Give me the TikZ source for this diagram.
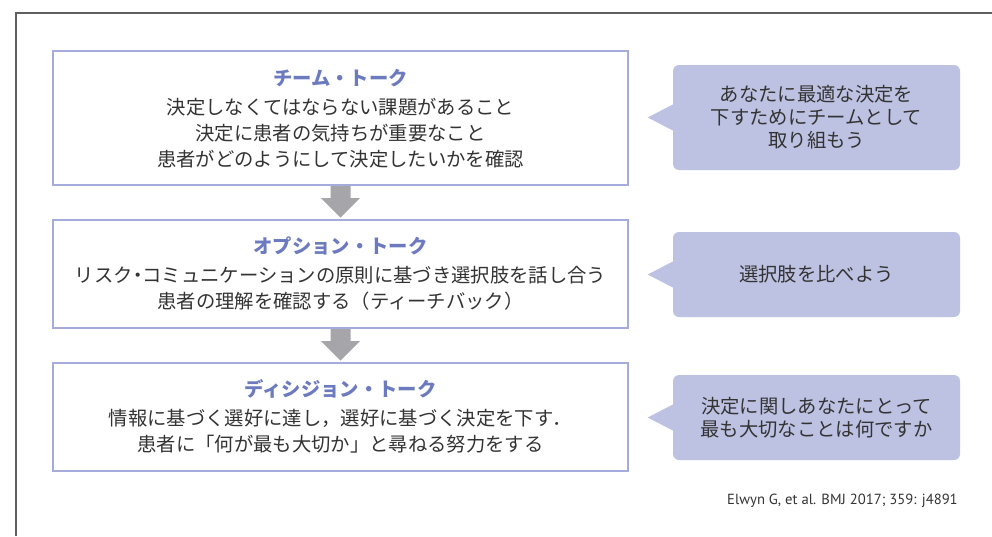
\documentclass[tikz,border=0pt]{standalone}
\usepackage{fontspec}
\usetikzlibrary{calc}
\newfontfamily\jp{Noto Sans CJK JP}
\newfontfamily\citefont{PT Sans}
\definecolor{boxborder}{RGB}{165,172,220}
\definecolor{titlecol}{RGB}{108,122,192}
\definecolor{callfill}{RGB}{190,194,226}
\definecolor{arrowgray}{RGB}{166,166,170}
\definecolor{textcol}{RGB}{51,51,51}
\definecolor{framecol}{RGB}{95,95,95}
\newcommand{\narrowdot}{\makebox[0.5em][c]{・}}
% sizes given in px, 1px = 0.75pt
\tikzset{
  talkbox/.style={draw=boxborder, line width=1.5pt, fill=white, minimum width=431.25pt, minimum height=#1*0.75pt, inner sep=0pt},
  talktitle/.style={font=\jp\bfseries\fontsize{14.5pt}{18pt}\selectfont, text=titlecol, inner sep=0pt},
  talkbody/.style={font=\jp\fontsize{14.5pt}{19.5pt}\selectfont, text=textcol, align=center, inner sep=0pt},
  callbox/.style={fill=callfill, rounded corners=4.5pt, minimum width=215.25pt, minimum height=#1*0.75pt, inner sep=0pt},
  calltext/.style={font=\jp\fontsize{14.5pt}{17.25pt}\selectfont, text=textcol, align=center, inner sep=0pt},
  blockarrow/.style={fill=arrowgray, draw=none},
}
\begin{document}
\begin{tikzpicture}[x=0.75pt, y=-0.75pt]
\useasboundingbox (0,0) rectangle (992,536);
% outer frame (open at right and bottom)
\coordinate (fbl) at (16,536);
\coordinate (ftl) at (16,13);
\coordinate (ftr) at (992,13);
\draw[framecol, line width=0.9pt] (fbl) -- (ftl) -- (ftr);

% boxes
\node[talkbox=134] (b1) at (340.5,118) {};
\node[talkbox=108] (b2) at (340.5,274) {};
\node[talkbox=108] (b3) at (340.5,417) {};

\node[talktitle] (t1) at (340.5,78) {チーム・トーク};
\node[talkbody] (x1) at (340.5,133) {決定しなくてはならない課題があること\\決定に患者の気持ちが重要なこと\\患者がどのようにして決定したいかを確認};

\node[talktitle] (t2) at (340.5,246) {オプション・トーク};
\node[talkbody] (x2) at (340.5,288.5) {リスク\narrowdot コミュニケーションの原則に基づき選択肢を話し合う\\患者の理解を確認する（ティーチバック）};

\node[talktitle] (t3) at (340.5,389) {ディシジョン・トーク};
\node[talkbody] (x3) at (340.5,431.5) {情報に基づく選好に達し，選好に基づく決定を下す．\\患者に「何が最も大切か」と尋ねる努力をする};

% block arrows
\foreach \a/\b in {b1/b2, b2/b3}{
  \fill[blockarrow] ($(\a.south)+(-10,0)$) -- ($(\a.south)+(-10,12)$) -- ($(\a.south)+(-19.5,12)$)
    -- ($(\b.north)+(0,-1.5)$) -- ($(\a.south)+(19.5,12)$) -- ($(\a.south)+(10,12)$) -- ($(\a.south)+(10,0)$) -- cycle;
}

% callouts
\node[callbox=105] (c1) at (816.5,117.5) {};
\node[callbox=85] (c2) at (816.5,274.5) {};
\node[callbox=85] (c3) at (816.5,417.5) {};
\foreach \c in {c1,c2,c3}{
  \fill[callfill] ($(\c.west)+(1,-13.5)$) -- ($(\c.west)+(-25,0)$) -- ($(\c.west)+(1,13.5)$) -- cycle;
}
\node[calltext] (ct1) at (c1) {あなたに最適な決定を\\下すためにチームとして\\取り組もう};
\node[calltext] (ct2) at (c2) {選択肢を比べよう};
\node[calltext] (ct3) at (c3) {決定に関しあなたにとって\\最も大切なことは何ですか};

% citation
\node[font=\citefont\fontsize{11pt}{13pt}\selectfont, text=textcol, anchor=east, inner sep=0pt] (cite) at (958,501) {Elwyn G, et al. BMJ 2017; 359: j4891};
\end{tikzpicture}
\end{document}
